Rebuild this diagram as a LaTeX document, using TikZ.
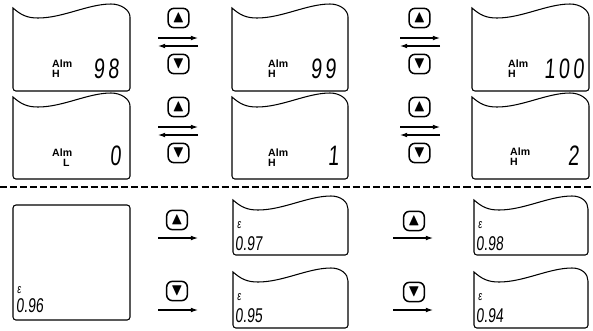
\documentclass[tikz,border=0pt]{standalone}
\usepackage{amssymb}
\usepackage{fontspec}
\setmainfont{Liberation Sans}
\newfontfamily\lcdfont{Liberation Sans}[FakeSlant=0.08,FakeStretch=0.7]
\newfontfamily\lcdbigfont{Liberation Sans}[FakeSlant=0.08,FakeStretch=0.7,LetterSpace=12]
\usetikzlibrary{arrows.meta}

\newcommand{\wavepanel}[4]{%
  \draw[panel] (#1,#2) .. controls ({#1+8},{#2+7}) and ({#1+14},{#2+10}) .. ({#1+25},{#2+10})
    .. controls ({#1+50},{#2+10}) and ({#1+75},{#2-4}) .. ({#1+98},{#2-4})
    .. controls ({#1+108},{#2-4}) and ({#1+#3},{#2+2}) .. ({#1+#3},{#2+9})
    [rounded corners=2.5pt] -- ({#1+#3},{#2+#4}) -- (#1,{#2+#4}) -- (#1,{#2+3}) [sharp corners] -- cycle;}

\begin{document}
\begin{tikzpicture}[x=0.03cm, y=-0.03cm,
  panel/.style={line width=0.9pt},
  key/.style={draw, line width=1.3pt, rounded corners=5pt, minimum width=0.62cm, minimum height=0.58cm, inner sep=0pt, font=\Large},
  arr/.style={line width=0.9pt, -{Latex[length=6pt,width=4pt]}},
  alm/.style={anchor=base west, inner sep=0pt, font=\bfseries\fontsize{9}{9}\selectfont},
  big/.style={anchor=base east, inner sep=0pt, font=\lcdbigfont\fontsize{24}{24}\selectfont},
  eps/.style={anchor=base west, inner sep=0pt, font=\lcdfont\fontsize{11}{11}\selectfont},
  val/.style={anchor=base west, inner sep=0pt, font=\lcdfont\fontsize{17}{17}\selectfont}]
  \useasboundingbox (0,0) rectangle (593,330);

  \wavepanel{13}{8}{117}{83}
  \wavepanel{232}{8}{116}{83}
  \wavepanel{472}{8}{117}{83}
  \wavepanel{13}{97}{117}{82}
  \wavepanel{232}{97}{116}{82}
  \wavepanel{472}{97}{117}{82}
  \draw[panel, rounded corners=2.5pt] (13,205) rectangle (130,320);
  \wavepanel{233}{200}{115}{55}
  \wavepanel{233}{272}{115}{56}
  \wavepanel{474}{200}{114}{55}
  \wavepanel{474}{272}{114}{56}

  \draw[line width=1pt, dash pattern=on 6pt off 2.6pt] (0,187) -- (593,187);

  \node[alm] (alm1) at (52,67) {Alm};
  \node[alm] (hi1) at (52,77) {H};
  \node[big] (num1) at (119,78) {98};
  \node[alm] (alm2) at (268,67) {Alm};
  \node[alm] (hi2) at (268,77) {H};
  \node[big] (num2) at (336,78) {99};
  \node[alm] (alm3) at (508,67) {Alm};
  \node[alm] (hi3) at (508,77) {H};
  \node[big] (num3) at (584,78) {100};
  \node[alm] (alm4) at (52,156) {Alm};
  \node[alm] (lo4) at (63,166) {L};
  \node[big] (num4) at (121,165) {0};
  \node[alm] (alm5) at (268,156) {Alm};
  \node[alm] (hi5) at (268,166) {H};
  \node[big] (num5) at (339,165) {1};
  \node[alm] (alm6) at (510,155) {Alm};
  \node[alm] (hi6) at (510,165) {H};
  \node[big] (num6) at (579,165) {2};

  \node[eps] (eps0) at (17,293) {ε};
  \node[val] (val0) at (16,312) {0.96};
  \node[eps] (eps1) at (237,228) {ε};
  \node[val] (val1) at (235,250) {0.97};
  \node[eps] (eps2) at (237,300) {ε};
  \node[val] (val2) at (235,322) {0.95};
  \node[eps] (eps3) at (478,228) {ε};
  \node[val] (val3) at (476,250) {0.98};
  \node[eps] (eps4) at (478,300) {ε};
  \node[val] (val4) at (476,322) {0.94};

  \node[key] (upA1) at (178.5,18) {$\blacktriangle$};
  \node[key] (dnA1) at (178.5,64) {$\blacktriangledown$};
  \node[key] (upB1) at (419.5,18) {$\blacktriangle$};
  \node[key] (dnB1) at (419.5,64) {$\blacktriangledown$};
  \node[key] (upA2) at (178.5,107) {$\blacktriangle$};
  \node[key] (dnA2) at (178.5,153) {$\blacktriangledown$};
  \node[key] (upB2) at (419.5,107) {$\blacktriangle$};
  \node[key] (dnB2) at (419.5,153) {$\blacktriangledown$};
  \node[key] (upA3) at (177,220) {$\blacktriangle$};
  \node[key] (dnA3) at (177,291) {$\blacktriangledown$};
  \node[key] (upB3) at (414,221) {$\blacktriangle$};
  \node[key] (dnB3) at (414,292) {$\blacktriangledown$};

  \coordinate (fA1) at (158,38);
  \coordinate (tA1) at (198,38);
  \coordinate (fB1) at (400,38);
  \coordinate (tB1) at (440,38);
  \coordinate (gA1) at (158,46);
  \coordinate (hA1) at (198,46);
  \coordinate (gB1) at (400,46);
  \coordinate (hB1) at (440,46);
  \coordinate (fA2) at (158,127);
  \coordinate (tA2) at (198,127);
  \coordinate (fB2) at (400,127);
  \coordinate (tB2) at (440,127);
  \coordinate (gA2) at (158,135);
  \coordinate (hA2) at (198,135);
  \coordinate (gB2) at (400,135);
  \coordinate (hB2) at (440,135);
  \coordinate (fA3) at (158,238);
  \coordinate (tA3) at (198,238);
  \coordinate (fB3) at (393,238);
  \coordinate (tB3) at (433,238);
  \coordinate (fA4) at (158,310);
  \coordinate (tA4) at (198,310);
  \coordinate (fB4) at (393,310);
  \coordinate (tB4) at (433,310);

  \draw[arr] (fA1) -- (tA1);
  \draw[arr] (hA1) -- (gA1);
  \draw[arr] (fB1) -- (tB1);
  \draw[arr] (hB1) -- (gB1);
  \draw[arr] (fA2) -- (tA2);
  \draw[arr] (hA2) -- (gA2);
  \draw[arr] (fB2) -- (tB2);
  \draw[arr] (hB2) -- (gB2);
  \draw[arr] (fA3) -- (tA3);
  \draw[arr] (fB3) -- (tB3);
  \draw[arr] (fA4) -- (tA4);
  \draw[arr] (fB4) -- (tB4);
\end{tikzpicture}
\end{document}
